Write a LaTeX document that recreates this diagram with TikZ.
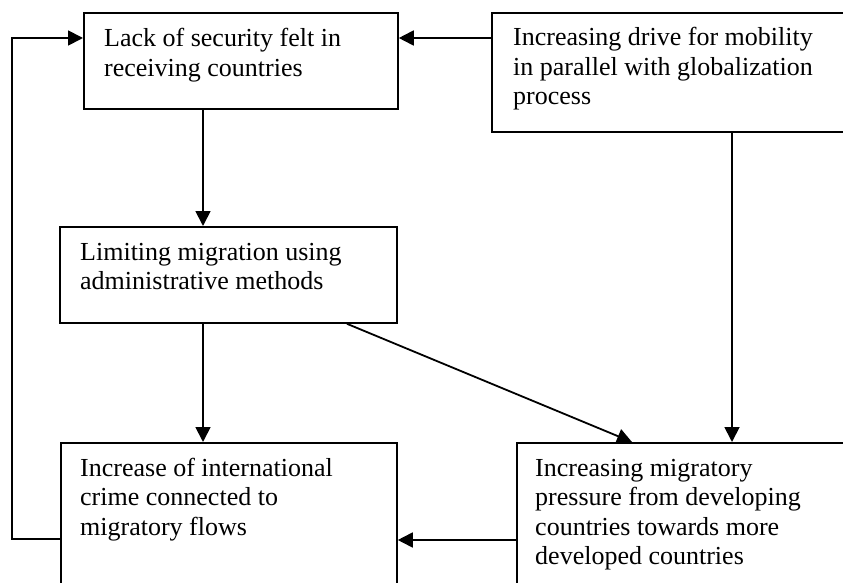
\documentclass[tikz,border=0pt]{standalone}
\usepackage{fontspec}
\setmainfont{Liberation Serif}
\usetikzlibrary{arrows.meta}
\tikzset{
  box/.style={draw, line width=1.8pt, anchor=north west, inner sep=0pt},
  txt/.style={anchor=base west, align=left, inner sep=0pt, font=\fontsize{26}{29.5}\selectfont},
  arr/.style={line width=1.8pt, -{Triangle[length=15pt, width=15pt]}}
}
\begin{document}
\begin{tikzpicture}[x=1pt, y=1pt]
\useasboundingbox (0,0) rectangle (843,-583);
\clip (0,0) rectangle (843,-583);
\node[box, minimum width=314pt, minimum height=96pt] (lack) at (83,-12) {};
\node[box, minimum width=380pt, minimum height=119pt] (drive) at (491,-12) {};
\node[box, minimum width=337pt, minimum height=96pt] (limit) at (59,-226) {};
\node[box, minimum width=336pt, minimum height=180pt] (crime) at (60,-442) {};
\node[box, minimum width=360pt, minimum height=180pt] (pressure) at (516,-442) {};
\node[txt] (lacktxt) at (104,-76.5) {Lack of security felt in\\receiving countries};
\node[txt] (drivetxt) at (513,-105) {Increasing drive for mobility\\in parallel with globalization\\process};
\node[txt] (limittxt) at (80,-289.5) {Limiting migration using\\administrative methods};
\node[txt] (crimetxt) at (80,-535) {Increase of international\\crime connected to\\migratory flows};
\node[txt] (pressuretxt) at (535,-564.5) {Increasing migratory\\pressure from developing\\countries towards more\\developed countries};
\draw[arr] ([yshift=-26pt]drive.north west) -- ([yshift=-26pt]lack.north east);
\draw[arr] ([xshift=120pt]lack.south west) -- ([xshift=120pt]lack.south west |- limit.north);
\draw[arr] ([xshift=144pt]limit.south west) -- ([xshift=144pt]limit.south west |- crime.north);
\draw[arr] ([xshift=241pt]drive.south west) -- ([xshift=241pt]drive.south west |- pressure.north);
\draw[arr] ([xshift=288pt]limit.south west) -- ([xshift=116pt]pressure.north west);
\draw[arr] ([yshift=-98pt]pressure.north west) -- ([yshift=-98pt]crime.north east);
\draw[arr] ([yshift=-97pt]crime.north west) -- ++(-48pt,0) |- ([yshift=-26pt]lack.north west);
\end{tikzpicture}
\end{document}
